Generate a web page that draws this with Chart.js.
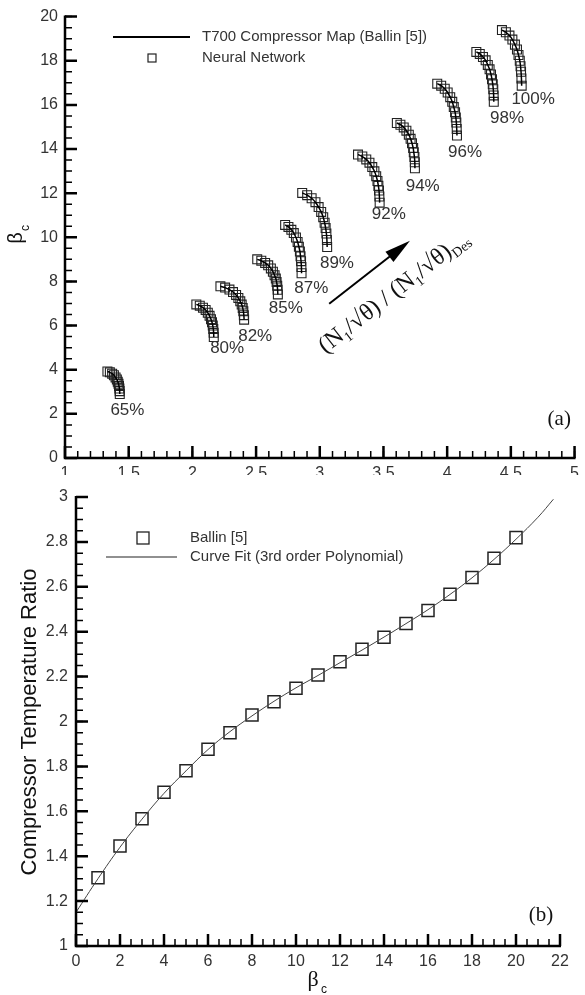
<!DOCTYPE html>
<html lang="en">
<head>
  <meta charset="UTF-8">
  <title>T700 Compressor</title>
  <script src="https://cdn.jsdelivr.net/npm/chart.js"></script>
  <style>
    body { margin: 0; background: #fff; }
    #wrap { position: relative; width: 585px; height: 995px; background: #fff; }
    #mapChart { position: absolute; left: 0; top: 0; }
    #tempChart { position: absolute; left: 0; top: 475px; background: #fff; }
  </style>
</head>
<body>
<div id="wrap">
  <canvas id="mapChart" width="585" height="475"></canvas>
  <canvas id="tempChart" width="585" height="520"></canvas>
</div>

<script>
  // ---- (a) compressor map: corrected flow (x) vs pressure ratio (y), one pair per speed line
  const speedNames = ['65%', '80%', '82%', '85%', '87%', '89%', '92%', '94%', '96%', '98%', '100%'];

  const flow65 = [1.333, 1.352, 1.370, 1.384, 1.397, 1.407, 1.414, 1.420, 1.424, 1.427, 1.429, 1.430];
  const pr65 = [3.92, 3.88, 3.82, 3.75, 3.65, 3.56, 3.46, 3.36, 3.26, 3.15, 3.03, 2.90];
  const flow80 = [2.031, 2.058, 2.083, 2.104, 2.121, 2.135, 2.146, 2.154, 2.160, 2.164, 2.167, 2.168];
  const pr80 = [6.96, 6.90, 6.81, 6.71, 6.58, 6.44, 6.29, 6.15, 6.00, 5.85, 5.67, 5.48];
  const flow82 = [2.220, 2.257, 2.291, 2.319, 2.343, 2.361, 2.376, 2.387, 2.395, 2.400, 2.404, 2.406];
  const pr82 = [7.78, 7.72, 7.63, 7.52, 7.39, 7.25, 7.10, 6.95, 6.80, 6.65, 6.47, 6.27];
  const flow85 = [2.509, 2.541, 2.571, 2.595, 2.616, 2.632, 2.645, 2.655, 2.661, 2.666, 2.669, 2.671];
  const pr85 = [9.00, 8.94, 8.84, 8.73, 8.59, 8.44, 8.28, 8.13, 7.97, 7.81, 7.62, 7.41];
  const flow87 = [2.728, 2.754, 2.777, 2.796, 2.813, 2.826, 2.836, 2.844, 2.849, 2.853, 2.856, 2.857];
  const pr87 = [10.56, 10.47, 10.34, 10.19, 9.99, 9.79, 9.57, 9.36, 9.14, 8.92, 8.65, 8.37];
  const flow89 = [2.862, 2.901, 2.936, 2.966, 2.991, 3.011, 3.027, 3.038, 3.046, 3.052, 3.056, 3.058];
  const pr89 = [12.01, 11.91, 11.77, 11.59, 11.37, 11.15, 10.91, 10.66, 10.42, 10.17, 9.88, 9.56];
  const flow92 = [3.300, 3.334, 3.365, 3.390, 3.412, 3.429, 3.443, 3.453, 3.460, 3.465, 3.468, 3.470];
  const pr92 = [13.75, 13.66, 13.53, 13.38, 13.18, 12.99, 12.77, 12.55, 12.33, 12.12, 11.85, 11.57];
  const flow94 = [3.605, 3.633, 3.659, 3.680, 3.699, 3.713, 3.724, 3.733, 3.738, 3.743, 3.746, 3.747];
  const pr94 = [15.18, 15.10, 14.98, 14.83, 14.65, 14.46, 14.26, 14.05, 13.85, 13.64, 13.40, 13.13];
  const flow96 = [3.922, 3.953, 3.981, 4.004, 4.024, 4.040, 4.052, 4.062, 4.068, 4.072, 4.075, 4.077];
  const pr96 = [16.96, 16.87, 16.73, 16.56, 16.35, 16.14, 15.90, 15.67, 15.43, 15.20, 14.91, 14.61];
  const flow98 = [4.229, 4.256, 4.281, 4.302, 4.319, 4.333, 4.344, 4.352, 4.358, 4.362, 4.365, 4.366];
  const pr98 = [18.40, 18.31, 18.17, 18.02, 17.81, 17.61, 17.38, 17.16, 16.93, 16.71, 16.43, 16.14];
  const flow100 = [4.430, 4.461, 4.489, 4.512, 4.532, 4.548, 4.560, 4.570, 4.576, 4.580, 4.583, 4.585];
  const pr100 = [19.39, 19.29, 19.14, 18.96, 18.73, 18.51, 18.26, 18.00, 17.75, 17.50, 17.20, 16.87];

  // ---- (b) temperature ratio vs beta_c
  const ballinBeta = [1, 2, 3, 4, 5, 6, 7, 8, 9, 10, 11, 12, 13, 14, 15, 16, 17, 18, 19, 20];
  const ballinTr = [1.304, 1.445, 1.567, 1.685, 1.781, 1.876, 1.95, 2.029, 2.088, 2.148,
                    2.207, 2.266, 2.322, 2.375, 2.437, 2.494, 2.567, 2.641, 2.727, 2.819];
  const fitBeta = [0, 1, 2, 3, 4, 5, 6, 7, 8, 9, 10, 11, 12, 13, 14, 15, 16, 17, 18, 19, 20, 21, 21.7];
  const fitTr = [1.15, 1.30, 1.44, 1.565, 1.68, 1.78, 1.875, 1.955, 2.025, 2.09, 2.15, 2.205,
                 2.262, 2.318, 2.376, 2.436, 2.498, 2.566, 2.64, 2.722, 2.812, 2.91, 2.99];

  const flows = [flow65, flow80, flow82, flow85, flow87, flow89, flow92, flow94, flow96, flow98, flow100];
  const ratios = [pr65, pr80, pr82, pr85, pr87, pr89, pr92, pr94, pr96, pr98, pr100];

  // where each speed label sits (data units)
  const speedLabelX = [1.49, 2.273, 2.493, 2.733, 2.934, 3.135, 3.542, 3.808, 4.141, 4.47, 4.675];
  const speedLabelY = [2.14, 4.96, 5.52, 6.77, 7.71, 8.82, 11.02, 12.31, 13.87, 15.38, 16.27];

  const pts = (xs, ys) => xs.map((x, i) => ({ x: x, y: ys[i] }));
  const tickFmt = v => String(+v.toFixed(2));

  function drawFrame(chart, xMajor, xMinor, yMajor, yMinor) {
    const { ctx, chartArea: a } = chart;
    const sx = chart.scales.x, sy = chart.scales.y;
    ctx.save();
    ctx.strokeStyle = '#000';
    function tickSet(scale, step, len, width, horiz) {
      const n = Math.round((scale.max - scale.min) / step);
      ctx.lineWidth = width;
      ctx.beginPath();
      for (let i = 0; i <= n; i++) {
        const p = scale.getPixelForValue(scale.min + i * step);
        if (horiz) { ctx.moveTo(p, a.bottom); ctx.lineTo(p, a.bottom - len); }
        else { ctx.moveTo(a.left, p); ctx.lineTo(a.left + len, p); }
      }
      ctx.stroke();
    }
    tickSet(sx, xMinor, 7, 1.5, true);
    tickSet(sy, yMinor, 7, 1.5, false);
    tickSet(sx, xMajor, 12, 2.5, true);
    tickSet(sy, yMajor, 12, 2.5, false);
    ctx.lineWidth = 2.5;
    ctx.beginPath();
    ctx.moveTo(a.left, a.top - 1);
    ctx.lineTo(a.left, a.bottom);
    ctx.lineTo(a.right + 1, a.bottom);
    ctx.stroke();
    ctx.restore();
  }

  // text with subscripts: parts = [[text, isSub], ...]
  function partsWidth(ctx, parts, font, subFont) {
    let w = 0;
    parts.forEach(p => { ctx.font = p[1] ? subFont : font; w += ctx.measureText(p[0]).width; });
    return w;
  }
  function drawParts(ctx, parts, x, y, font, subFont, subDrop) {
    parts.forEach(p => {
      ctx.font = p[1] ? subFont : font;
      ctx.fillText(p[0], x, p[1] ? y + subDrop : y);
      x += ctx.measureText(p[0]).width;
    });
  }

  function drawMapDecor(chart) {
    const { ctx } = chart;
    const sx = chart.scales.x, sy = chart.scales.y;
    drawFrame(chart, 0.5, 0.1, 2, 0.5);
    ctx.save();

    // speed labels
    ctx.fillStyle = '#333';
    ctx.font = '17px Arial, "Liberation Sans"';
    ctx.textAlign = 'center';
    ctx.textBaseline = 'middle';
    speedNames.forEach((s, i) => {
      ctx.fillText(s, sx.getPixelForValue(speedLabelX[i]), sy.getPixelForValue(speedLabelY[i]));
    });

    // legend
    ctx.strokeStyle = '#000';
    ctx.lineWidth = 2;
    ctx.beginPath(); ctx.moveTo(113, 37); ctx.lineTo(190, 37); ctx.stroke();
    ctx.lineWidth = 1.2;
    ctx.strokeStyle = '#222';
    ctx.strokeRect(148, 54, 8, 8);
    ctx.textAlign = 'left';
    ctx.font = '15px Arial, "Liberation Sans"';
    ctx.fillStyle = '#333';
    ctx.fillText('T700 Compressor Map (Ballin [5])', 202, 37);
    ctx.fillText('Neural Network', 202, 58);

    // arrow
    const x0 = sx.getPixelForValue(3.074), y0 = sy.getPixelForValue(6.99);
    const x1 = sx.getPixelForValue(3.708), y1 = sy.getPixelForValue(9.84);
    const ang = Math.atan2(y1 - y0, x1 - x0);
    const hl = 26, hw = 6.5;
    ctx.strokeStyle = '#000';
    ctx.fillStyle = '#000';
    ctx.lineWidth = 2;
    ctx.beginPath();
    ctx.moveTo(x0, y0);
    ctx.lineTo(x1 - (hl - 2) * Math.cos(ang), y1 - (hl - 2) * Math.sin(ang));
    ctx.stroke();
    ctx.beginPath();
    ctx.moveTo(x1, y1);
    ctx.lineTo(x1 - hl * Math.cos(ang) - hw * Math.sin(ang), y1 - hl * Math.sin(ang) + hw * Math.cos(ang));
    ctx.lineTo(x1 - hl * Math.cos(ang) + hw * Math.sin(ang), y1 - hl * Math.sin(ang) - hw * Math.cos(ang));
    ctx.closePath();
    ctx.fill();

    // rotated speed-ratio text
    const parts = [['(N', false], ['1', true], ['/\u221A\u03B8) / (N', false], ['1', true], ['/\u221A\u03B8)', false], ['Des', true]];
    const f = '24px "Liberation Serif", "Times New Roman", serif';
    const fs = '14px "Liberation Serif", "Times New Roman", serif';
    ctx.translate(sx.getPixelForValue(3.57), sy.getPixelForValue(7.6));
    ctx.rotate(-38 * Math.PI / 180);
    ctx.textAlign = 'left';
    ctx.textBaseline = 'alphabetic';
    ctx.fillStyle = '#111';
    const w = partsWidth(ctx, parts, f, fs);
    drawParts(ctx, parts, -w / 2, 9, f, fs, 5);
    ctx.restore();

    // (a)
    ctx.save();
    ctx.fillStyle = '#111';
    ctx.font = '21px "Liberation Serif", "Times New Roman", serif';
    ctx.textAlign = 'center';
    ctx.textBaseline = 'middle';
    ctx.fillText('(a)', sx.getPixelForValue(4.88), sy.getPixelForValue(1.74));

    // y title beta_c
    ctx.translate(16, 238);
    ctx.rotate(-Math.PI / 2);
    ctx.font = '20px Arial, "Liberation Sans"';
    ctx.textAlign = 'center';
    ctx.fillText('\u03B2', 0, 0);
    ctx.font = '12px Arial, "Liberation Sans"';
    ctx.fillText('c', 10, 10);
    ctx.restore();
  }

  function drawTempDecor(chart) {
    const { ctx } = chart;
    const sx = chart.scales.x, sy = chart.scales.y;
    drawFrame(chart, 2, 0.5, 0.2, 0.05);
    ctx.save();

    // legend
    ctx.strokeStyle = '#222';
    ctx.lineWidth = 1.3;
    ctx.strokeRect(137, 57, 12, 12);
    ctx.strokeStyle = '#222';
    ctx.lineWidth = 1.2;
    ctx.beginPath(); ctx.moveTo(106, 82); ctx.lineTo(177, 82); ctx.stroke();
    ctx.fillStyle = '#333';
    ctx.font = '15px Arial, "Liberation Sans"';
    ctx.textAlign = 'left';
    ctx.textBaseline = 'middle';
    ctx.fillText('Ballin [5]', 190, 63);
    ctx.fillText('Curve Fit (3rd order Polynomial)', 190, 82);

    // (b)
    ctx.fillStyle = '#111';
    ctx.font = '21px "Liberation Serif", "Times New Roman", serif';
    ctx.textAlign = 'center';
    ctx.fillText('(b)', sx.getPixelForValue(21.14), sy.getPixelForValue(1.134));

    // x title beta_c
    ctx.font = '22px "Liberation Serif", "Times New Roman", serif';
    ctx.fillText('\u03B2', 313, 505);
    ctx.font = '12px Arial, "Liberation Sans"';
    ctx.fillText('c', 324, 515);

    // y title
    ctx.translate(30, 247);
    ctx.rotate(-Math.PI / 2);
    ctx.font = '22px Arial, "Liberation Sans"';
    ctx.fillText('Compressor Temperature Ratio', 0, 0);
    ctx.restore();
  }

  const tickFont = { family: 'Arial, "Liberation Sans"', size: 16 };

  // ---- chart (a)
  const mapSets = [];
  flows.forEach((xs, i) => {
    mapSets.push({
      label: 'T700 ' + speedNames[i],
      data: pts(xs, ratios[i]),
      showLine: true,
      borderColor: '#000',
      borderWidth: 1.5,
      pointRadius: 0,
      tension: 0.3
    });
    mapSets.push({
      label: 'NN ' + speedNames[i],
      data: pts(xs, ratios[i]),
      showLine: false,
      pointStyle: 'rect',
      pointRadius: 6.3,
      pointBorderWidth: 1.1,
      pointBorderColor: '#222',
      pointBackgroundColor: 'rgba(0,0,0,0)'
    });
  });

  new Chart(document.getElementById('mapChart'), {
    type: 'scatter',
    data: { datasets: mapSets },
    options: {
      responsive: false,
      animation: false,
      layout: { autoPadding: false, padding: { top: 9, right: 3, left: 0, bottom: 0 } },
      plugins: { legend: { display: false }, tooltip: { enabled: false } },
      scales: {
        x: {
          type: 'linear', min: 1, max: 5,
          afterFit(s) { s.height = 17; },
          grid: { display: false, drawTicks: false },
          border: { display: false },
          ticks: { stepSize: 0.5, padding: 6, color: '#333', font: tickFont, maxRotation: 0, autoSkip: false, callback: tickFmt }
        },
        y: {
          type: 'linear', min: 0, max: 20,
          afterFit(s) { s.width = 65; },
          grid: { display: false, drawTicks: false },
          border: { display: false },
          ticks: { stepSize: 2, padding: 7, color: '#333', font: tickFont, callback: tickFmt }
        }
      }
    },
    plugins: [{ id: 'mapDecor', afterDraw: drawMapDecor }]
  });

  // ---- chart (b)
  new Chart(document.getElementById('tempChart'), {
    type: 'scatter',
    data: {
      datasets: [
        {
          label: 'Curve Fit (3rd order Polynomial)',
          data: pts(fitBeta, fitTr),
          showLine: true,
          borderColor: '#444',
          borderWidth: 1,
          pointRadius: 0,
          tension: 0.4
        },
        {
          label: 'Ballin [5]',
          data: pts(ballinBeta, ballinTr),
          showLine: false,
          pointStyle: 'rect',
          pointRadius: 8.5,
          pointBorderWidth: 1.5,
          pointBorderColor: '#222',
          pointBackgroundColor: 'rgba(0,0,0,0)'
        }
      ]
    },
    options: {
      responsive: false,
      animation: false,
      layout: { autoPadding: false, padding: { top: 22, right: 25, left: 0, bottom: 0 } },
      plugins: { legend: { display: false }, tooltip: { enabled: false } },
      scales: {
        x: {
          type: 'linear', min: 0, max: 22,
          afterFit(s) { s.height = 49; },
          grid: { display: false, drawTicks: false },
          border: { display: false },
          ticks: { stepSize: 2, padding: 6, color: '#333', font: tickFont, maxRotation: 0, autoSkip: false, callback: tickFmt }
        },
        y: {
          type: 'linear', min: 1, max: 3,
          afterFit(s) { s.width = 76; },
          grid: { display: false, drawTicks: false },
          border: { display: false },
          ticks: { stepSize: 0.2, padding: 8, color: '#333', font: tickFont, callback: tickFmt }
        }
      }
    },
    plugins: [{ id: 'tempDecor', afterDraw: drawTempDecor }]
  });
</script>
</body>
</html>
